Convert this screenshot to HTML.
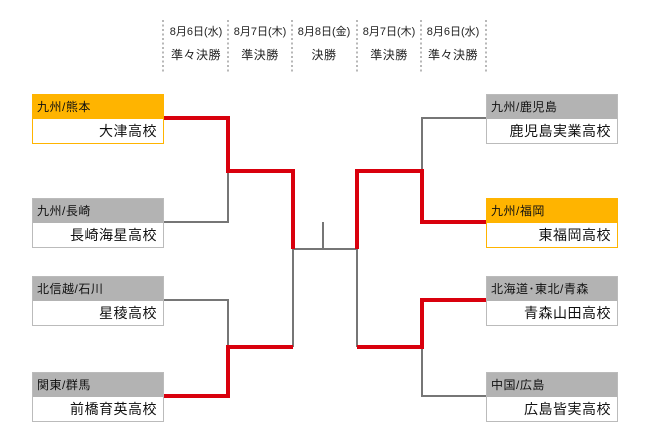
<!DOCTYPE html><html><head><meta charset="utf-8"><style>
body{margin:0;width:650px;height:446px;background:#fff;position:relative;font-family:"Liberation Sans","Noto Sans CJK JP",sans-serif;overflow:hidden}
.b{position:absolute;width:130px;height:48px;border:1px solid #bbb;box-sizing:border-box}
.b.o{border-color:#ffb400}
.h{height:24px;background:#b3b3b3;font-size:12px;line-height:24px;padding-left:4px;color:#111;letter-spacing:0.5px}
.o .h{background:#ffb400}
.n{height:24px;font-size:14px;line-height:24px;text-align:right;padding-right:6px;color:#111;letter-spacing:0.5px}
.d{position:absolute;top:22px;width:64px;text-align:center;color:#222}
.d1{font-size:11px;height:20px;line-height:20px}
.d2{font-size:12px;margin-top:4px;letter-spacing:0.5px}
</style></head><body>
<svg width="650" height="446" style="position:absolute;left:0;top:0">
<g stroke="#888" stroke-width="1.2" stroke-dasharray="2,2.5">
<line x1="163" y1="20" x2="163" y2="72"/><line x1="228" y1="20" x2="228" y2="72"/><line x1="292" y1="20" x2="292" y2="72"/><line x1="357" y1="20" x2="357" y2="72"/><line x1="421" y1="20" x2="421" y2="72"/><line x1="486" y1="20" x2="486" y2="72"/>
</g>
<g fill="none" stroke="#767676" stroke-width="2">
<polyline points="164,222 228,222 228,171"/>
<polyline points="164,300 228,300 228,347"/>
<polyline points="293,249 293,347"/>
<polyline points="293,249 357,249"/>
<polyline points="323,222 323,249"/>
<polyline points="357,249 357,347"/>
<polyline points="486,118 422,118 422,171"/>
<polyline points="486,396 422,396 422,347"/>
</g>
<g fill="none" stroke="#d9000d" stroke-width="4">
<polyline points="164,118 228,118 228,171 293,171 293,249"/>
<polyline points="164,396 228,396 228,347 293,347"/>
<polyline points="357,249 357,171 422,171 422,222 486,222"/>
<polyline points="357,347 422,347 422,300 486,300"/>
</g>
</svg>
<div class="d" style="left:164px"><div class="d1">8月6日(水)</div><div class="d2">準々決勝</div></div>
<div class="d" style="left:228px"><div class="d1">8月7日(木)</div><div class="d2">準決勝</div></div>
<div class="d" style="left:292px"><div class="d1">8月8日(金)</div><div class="d2">決勝</div></div>
<div class="d" style="left:357px"><div class="d1">8月7日(木)</div><div class="d2">準決勝</div></div>
<div class="d" style="left:421px"><div class="d1">8月6日(水)</div><div class="d2">準々決勝</div></div>
<div class="b o" style="left:32px;top:94px;width:132px;height:50px"><div class="h">九州/熊本</div><div class="n">大津高校</div></div>
<div class="b" style="left:32px;top:198px;width:132px;height:50px"><div class="h">九州/長崎</div><div class="n">長崎海星高校</div></div>
<div class="b" style="left:32px;top:276px;width:132px;height:50px"><div class="h">北信越/石川</div><div class="n">星稜高校</div></div>
<div class="b" style="left:32px;top:372px;width:132px;height:50px"><div class="h">関東/群馬</div><div class="n">前橋育英高校</div></div>
<div class="b" style="left:486px;top:94px;width:132px;height:50px"><div class="h">九州/鹿児島</div><div class="n">鹿児島実業高校</div></div>
<div class="b o" style="left:486px;top:198px;width:132px;height:50px"><div class="h">九州/福岡</div><div class="n">東福岡高校</div></div>
<div class="b" style="left:486px;top:276px;width:132px;height:50px"><div class="h">北海道･東北/青森</div><div class="n">青森山田高校</div></div>
<div class="b" style="left:486px;top:372px;width:132px;height:50px"><div class="h">中国/広島</div><div class="n">広島皆実高校</div></div>
</body></html>
